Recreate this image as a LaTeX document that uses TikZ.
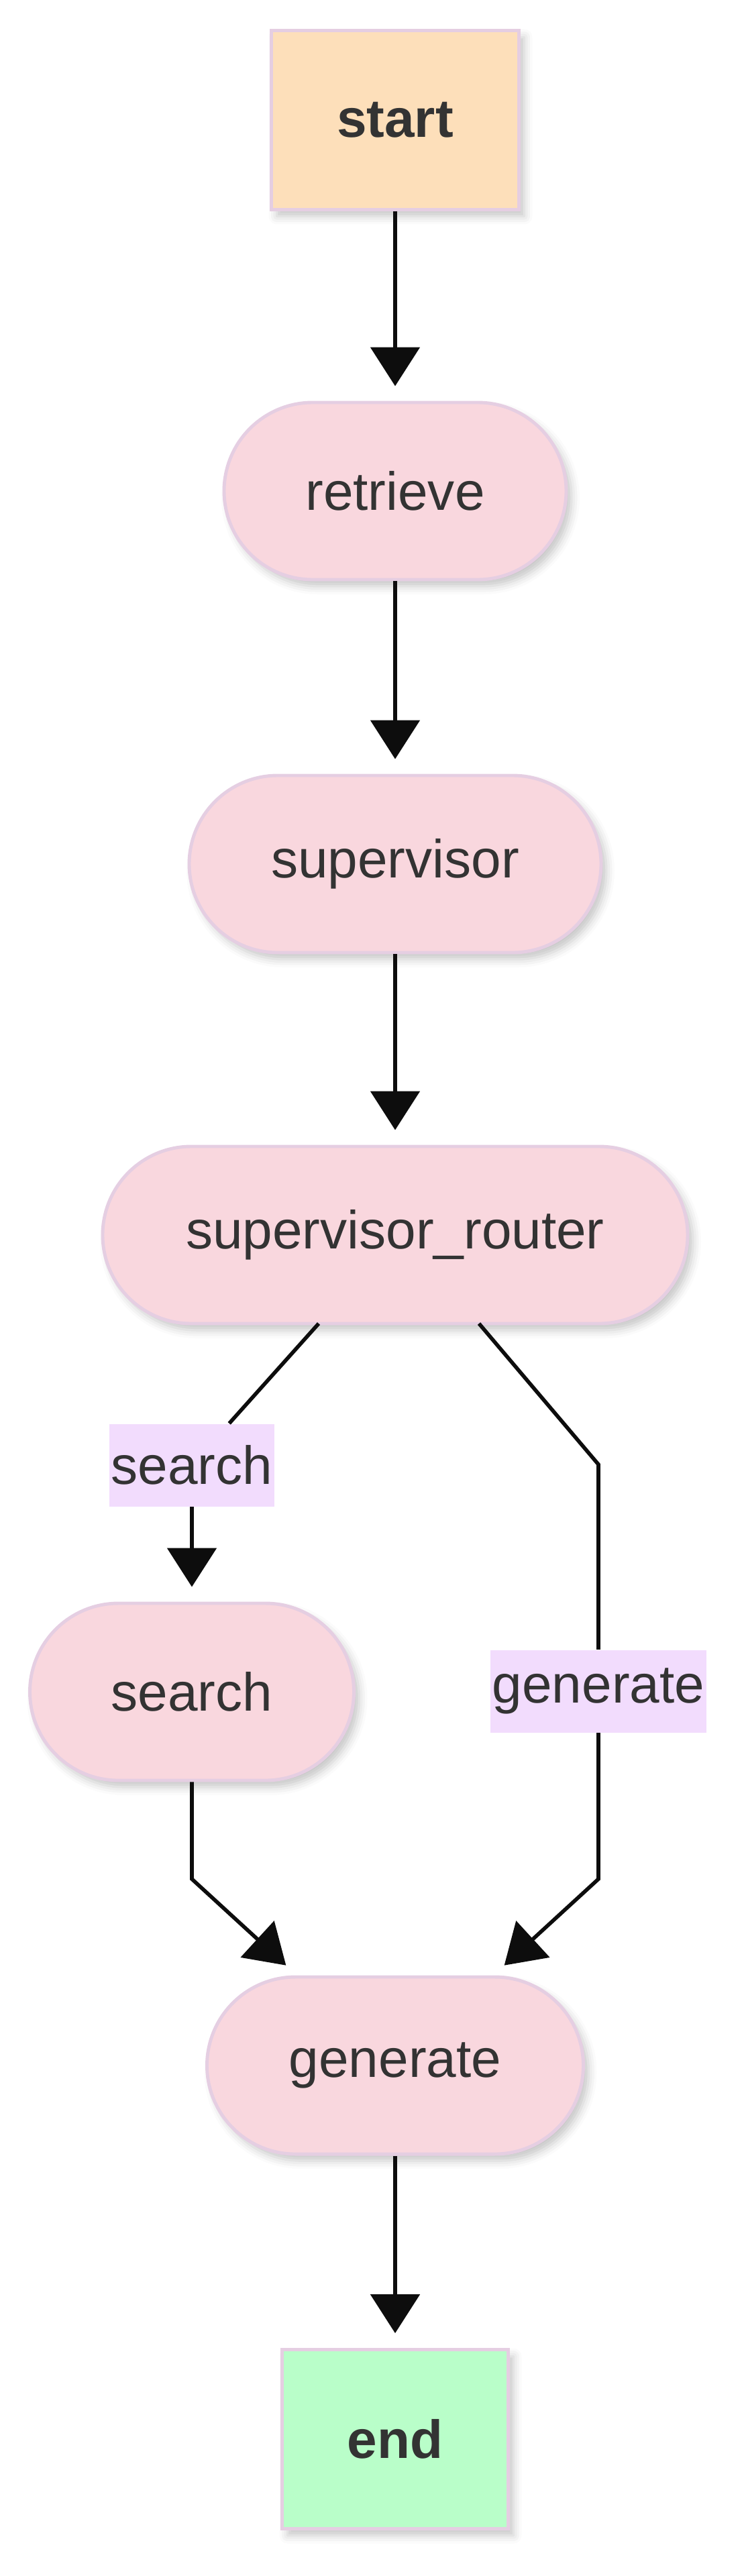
\documentclass[tikz,border=0pt]{standalone}
\usepackage{fontspec}
\setmainfont{Liberation Sans}
\usetikzlibrary{arrows.meta,shadows.blur}
\definecolor{txtgray}{HTML}{333333}
\definecolor{startfill}{HTML}{FDDFBA}
\definecolor{nodefill}{HTML}{F9D7DE}
\definecolor{endfill}{HTML}{B9FEC9}
\definecolor{lblfill}{HTML}{F2DCFD}
\definecolor{rimline}{HTML}{E5CEE2}
\definecolor{edgeline}{HTML}{0D0D0D}

\begin{document}
\begin{tikzpicture}[
  font=\fontsize{22.8pt}{27pt}\selectfont,
  nodebase/.style={draw=rimline, line width=1.4pt, text=txtgray, align=center,
              inner sep=0pt,
              blur shadow={shadow xshift=0.8mm, shadow yshift=-1mm,
                           shadow blur radius=1.2mm, shadow opacity=22}},
  term/.style={nodebase, rectangle, minimum height=2.67cm,
               font=\fontsize{22.8pt}{27pt}\selectfont\bfseries},
  stage/.style={nodebase, rectangle, rounded corners=1.32cm,
                minimum height=2.64cm, fill=nodefill},
  lbl/.style={fill=lblfill, text=txtgray, inner xsep=0.03cm, inner ysep=0pt,
              minimum height=1.23cm},
  link/.style={line width=1.6pt, draw=edgeline},
  arrow/.style={link, -{Triangle[length=5.8mm, width=7.3mm]}, shorten >=2.2mm}
]
\useasboundingbox (0,0) rectangle (11.09,-38.40);

% ---- Main column ----
\node[term, fill=startfill, minimum width=3.69cm] (start) at (5.89,-1.79) {start};
\node[stage, minimum width=5.10cm] (retrieve) at (5.89,-7.32) {retrieve};
\node[stage, minimum width=6.14cm] (supervisor) at (5.89,-12.88) {supervisor};
\node[stage, minimum width=8.72cm] (router) at (5.89,-18.41) {supervisor\_router};

% ---- Branches ----
\node[stage, minimum width=4.83cm] (search) at (2.86,-25.22) {search};
\node[stage, minimum width=5.61cm] (generate) at (5.89,-30.79) {generate};
\node[term, fill=endfill, minimum width=3.37cm] (end) at (5.89,-36.36) {end};

% ---- Edge labels ----
\node[lbl] (lsearch) at (2.86,-21.84) {search};
\node[lbl] (lgenerate) at (8.92,-25.21) {generate};

% bend points
\coordinate (rs) at (4.75,-19.73);
\coordinate (rg) at (7.14,-19.73);
\coordinate (kg) at (8.92,-21.83);
\coordinate (ks) at (2.86,-28.01);
\coordinate (kg2) at (8.92,-28.01);

% ---- Wiring ----
\draw[arrow] (start) -- (retrieve);
\draw[arrow] (retrieve) -- (supervisor);
\draw[arrow] (supervisor) -- (router);
\draw[link] (rs) -- (lsearch);
\draw[arrow] (lsearch) -- (search);
\draw[link] (rg) -- (kg) -- (lgenerate);
\draw[arrow] (lgenerate) -- (kg2) -- (generate);
\draw[arrow] (search) -- (ks) -- (generate);
\draw[arrow] (generate) -- (end);
\end{tikzpicture}
\end{document}
